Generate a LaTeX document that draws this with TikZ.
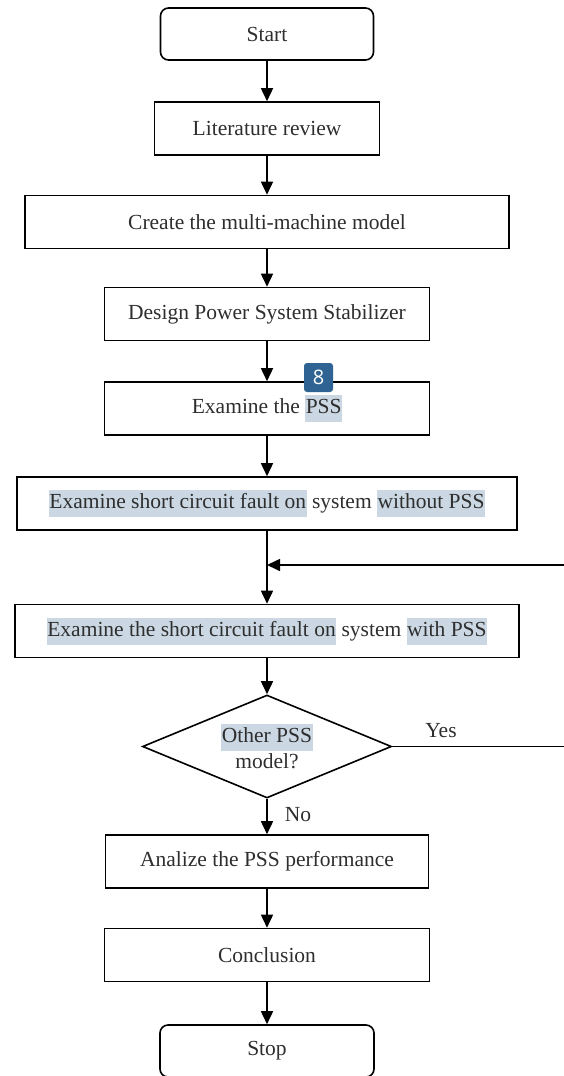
\documentclass[tikz,border=0pt]{standalone}
\usepackage{fontspec}
\setmainfont{Liberation Serif}
\newfontfamily\badgefont{Open Sans}
\usetikzlibrary{arrows.meta,shapes.geometric}
\definecolor{hlc}{HTML}{CBD8E3}
\definecolor{txt}{HTML}{2E2E2E}
\definecolor{badgec}{HTML}{2E6394}
\newcommand{\hlt}[1]{{\setlength{\fboxsep}{0.5pt}\colorbox{hlc}{\strut #1}}}
\begin{document}
\begin{tikzpicture}[x=1pt,y=-1pt,
  every node/.style={font=\fontsize{21.5}{26}\selectfont, text=txt},
  box/.style={draw, line width=1.6pt, minimum height=53pt, inner sep=0pt},
  term/.style={box, rounded corners=8pt},
  arr/.style={line width=1.6pt, -{Triangle[length=13pt,width=12pt]}},
  ln/.style={line width=1.6pt}]
\fill[white] (0,0) rectangle (563,1076);
\useasboundingbox (0,0) rectangle (563,1076);
\node[term, minimum width=213pt, minimum height=52pt] (start) at (267,34) {Start};
\node[box, minimum width=225pt] (lit) at (267,128.5) {Literature review};
\node[box, minimum width=484pt] (model) at (267,222) {Create the multi-machine model};
\node[box, minimum width=325pt] (design) at (267,314) {Design Power System Stabilizer};
\node[box, minimum width=325pt] (exam) at (267,408.5) {Examine the \hlt{PSS}};
\node[box, minimum width=500pt] (without) at (267,503.5) {\hlt{Examine short circuit fault on} system \hlt{without PSS}};
\node[box, minimum width=504pt] (with) at (267,631) {\hlt{Examine the short circuit fault on} system \hlt{with PSS}};
\node[diamond, aspect=2.42, draw, line width=1.6pt, minimum width=249pt, minimum height=103pt, inner sep=0pt, align=center] (dec) at (267,746.5) {\hlt{Other PSS}\\model?};
\node[box, minimum width=323pt] (anal) at (267,861.5) {Analize the PSS performance};
\node[box, minimum width=325pt] (concl) at (267,955) {Conclusion};
\node[term, minimum width=214pt, minimum height=52pt] (stop) at (267,1051) {Stop};
\node (yes) at (441,731) {Yes};
\node (no) at (298,815) {No};
\coordinate (j) at (267,565);
\coordinate (rt) at (600,746.5);
\coordinate (rb) at (600,565);
\draw[arr] (start) -- (lit);
\draw[arr] (lit) -- (model);
\draw[arr] (model) -- (design);
\draw[arr] (design) -- (exam);
\draw[arr] (exam) -- (without);
\draw[arr] (without) -- (with);
\draw[arr] (with) -- (dec);
\draw[arr] (dec) -- (anal);
\draw[arr] (anal) -- (concl);
\draw[arr] (concl) -- (stop);
\draw[arr] (dec.east) -- (rt) -- (rb) -- (j);
\node[fill=badgec, rounded corners=3pt, minimum size=29pt, inner sep=0pt, text=white, font=\badgefont\fontsize{20}{20}\selectfont] (badge) at (318.5,377.5) {8};
\end{tikzpicture}
\end{document}
